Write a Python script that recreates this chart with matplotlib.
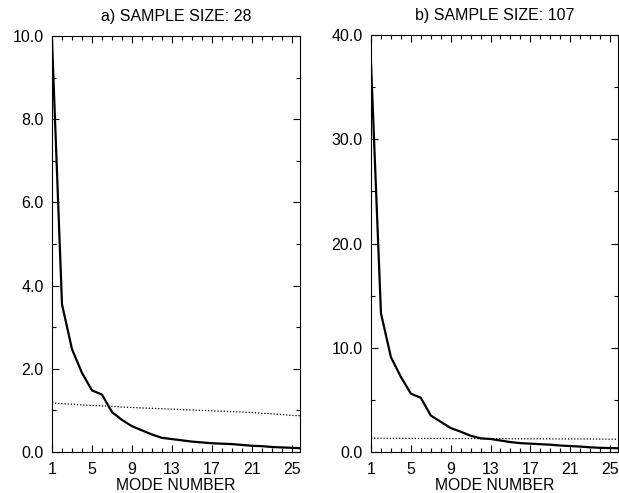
import matplotlib
matplotlib.use("Agg")
import matplotlib.pyplot as plt
from matplotlib.ticker import MultipleLocator, FixedLocator

plt.rcParams['font.family'] = ['Liberation Sans', 'DejaVu Sans']

modes = list(range(1, 27))
eig_a = [9.9, 3.55, 2.47, 1.9, 1.48, 1.38, 0.96, 0.77, 0.62, 0.52, 0.42, 0.34,
         0.31, 0.28, 0.25, 0.23, 0.21, 0.20, 0.19, 0.17, 0.15, 0.14, 0.12, 0.11,
         0.10, 0.09]
noise_a = [1.18, 1.16, 1.15, 1.13, 1.12, 1.11, 1.10, 1.08, 1.07, 1.06, 1.05, 1.04,
           1.03, 1.02, 1.01, 1.00, 0.99, 0.98, 0.97, 0.96, 0.95, 0.93, 0.92, 0.90,
           0.88, 0.87]
eig_b = [37.3, 13.3, 9.1, 7.2, 5.6, 5.2, 3.5, 2.9, 2.3, 1.95, 1.56, 1.31,
         1.25, 1.1, 0.95, 0.85, 0.8, 0.75, 0.7, 0.62, 0.57, 0.52, 0.45, 0.40,
         0.38, 0.35]
noise_b = [1.32, 1.32, 1.31, 1.31, 1.31, 1.30, 1.30, 1.30, 1.29, 1.29, 1.29, 1.28,
           1.28, 1.28, 1.27, 1.27, 1.26, 1.26, 1.26, 1.25, 1.25, 1.25, 1.24, 1.24,
           1.23, 1.23]

titles = ["a) SAMPLE SIZE: 28", "b) SAMPLE SIZE: 107"]
xticks = [1, 5, 9, 13, 17, 21, 25]

fig = plt.figure(figsize=(6.19, 4.93), dpi=100)
ax1 = fig.add_axes([52/619, 41/493, 248/619, 416/493])
ax2 = fig.add_axes([371/619, 41/493, 247/619, 417/493])

for ax, eig, noise, title, ymax, ystep in [
        (ax1, eig_a, noise_a, titles[0], 10.0, 2.0),
        (ax2, eig_b, noise_b, titles[1], 40.0, 10.0)]:
    ax.plot(modes, noise, color='black', lw=0.9, ls=(0, (1, 1.5)))
    ax.plot(modes, eig, color='black', lw=1.6)
    ax.set_xlim(1, 25.8)
    ax.set_ylim(0, ymax)
    ax.xaxis.set_major_locator(FixedLocator(xticks))
    ax.xaxis.set_minor_locator(MultipleLocator(1))
    ax.yaxis.set_major_locator(MultipleLocator(ystep))
    ax.yaxis.set_minor_locator(MultipleLocator(ystep / 2))
    ax.set_yticklabels([f"{v:.1f}" for v in ax.get_yticks()])
    ax.tick_params(which='both', direction='in', top=True, right=True,
                   labelsize=11.5, width=0.8)
    ax.tick_params(axis='y', pad=6)
    ax.tick_params(axis='x', pad=7)
    ax.tick_params(which='major', length=5)
    ax.tick_params(which='minor', length=3)
    for s in ax.spines.values():
        s.set_linewidth(0.8)
    ax.set_title(title, fontsize=11.5, pad=11)
    ax.set_xlabel("MODE NUMBER", fontsize=11.3, labelpad=1)

fig.savefig("out.png", dpi=100)
